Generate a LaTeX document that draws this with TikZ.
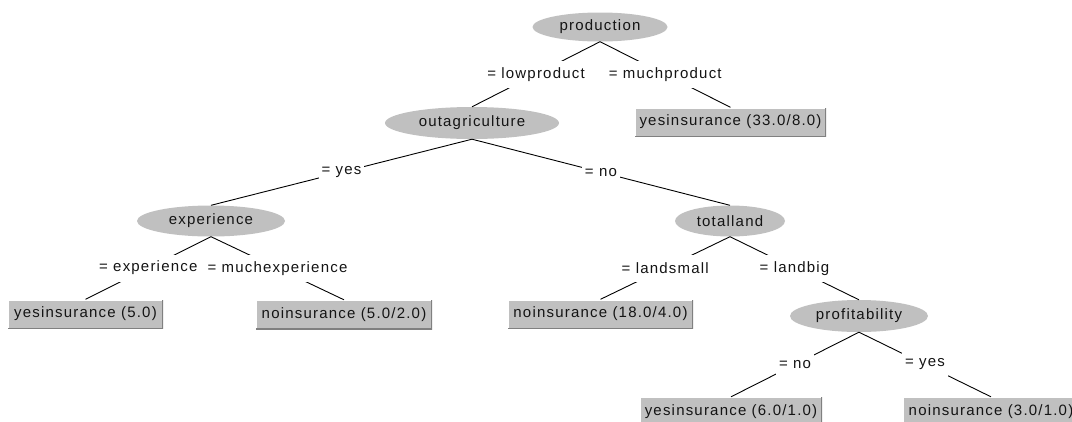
\documentclass[tikz,border=0pt]{standalone}
\usepackage{fontspec}
\setmainfont{Liberation Sans}[LetterSpace=8]
\usetikzlibrary{shapes.geometric}
\definecolor{wgray}{RGB}{192,192,192}
\definecolor{wdark}{RGB}{128,128,128}
\definecolor{wtext}{RGB}{20,20,20}
\tikzset{
  every node/.style={font=\fontsize{15}{18}\selectfont, text=wtext},
  split/.style={ellipse, fill=wgray, inner sep=0pt},
  leaf/.style={rectangle, fill=wgray, inner sep=0pt, minimum height=29pt,
    path picture={
      \draw[white, line width=2pt] (path picture bounding box.south west) -- (path picture bounding box.north west) -- (path picture bounding box.north east);
      \draw[wdark, line width=2pt] (path picture bounding box.north east) -- (path picture bounding box.south east) -- (path picture bounding box.south west);}},
  lbl/.style={fill=white, inner xsep=3pt, inner ysep=0pt, minimum height=27pt},
  conn/.style={draw=black, line width=0.9pt}
}
\begin{document}
\begin{tikzpicture}[x=1pt, y=-1pt]
\useasboundingbox (0,0) rectangle (1072,421);
% split nodes
\node[split, minimum width=135pt, minimum height=29pt] (prod) at (600,27) {production};
\node[split, minimum width=174pt, minimum height=32pt] (outag) at (472,123) {outagriculture};
\node[split, minimum width=148pt, minimum height=31pt] (exp) at (211,221) {experience};
\node[split, minimum width=110pt, minimum height=31pt] (tot) at (730,221) {totalland};
\node[split, minimum width=138pt, minimum height=32pt] (prof) at (859,316) {profitability};
% leaves
\node[leaf, minimum width=191pt] (yes33) at (730.5,122) {yesinsurance (33.0/8.0)};
\node[leaf, minimum width=155pt] (yes5) at (85.5,314) {yesinsurance (5.0)};
\node[leaf, minimum width=176pt] (no5) at (344,314.5) {noinsurance (5.0/2.0)};
\node[leaf, minimum width=185pt] (no18) at (600.5,314) {noinsurance (18.0/4.0)};
\node[leaf, minimum width=182pt] (yes6) at (731,411.5) {yesinsurance (6.0/1.0)};
\node[leaf, minimum width=176pt] (no3) at (991,411.5) {noinsurance (3.0/1.0)};
% connectors
\draw[conn] (prod.south) -- node[lbl] {= lowproduct} (outag.north);
\draw[conn] (prod.south) -- node[lbl] {= muchproduct} (yes33.north);
\draw[conn] (outag.south) -- node[lbl] {= yes} (exp.north);
\draw[conn] (outag.south) -- node[lbl] {= no} (tot.north);
\draw[conn] (exp.south) -- node[lbl] {= experience} (yes5.north);
\draw[conn] (exp.south) -- node[lbl] {= muchexperience} (no5.north);
\draw[conn] (tot.south) -- node[lbl] {= landsmall} (no18.north);
\draw[conn] (tot.south) -- node[lbl] {= landbig} (prof.north);
\draw[conn] (prof.south) -- node[lbl] {= no} (yes6.north);
\draw[conn] (prof.south) -- node[lbl] {= yes} (no3.north);
\end{tikzpicture}
\end{document}
